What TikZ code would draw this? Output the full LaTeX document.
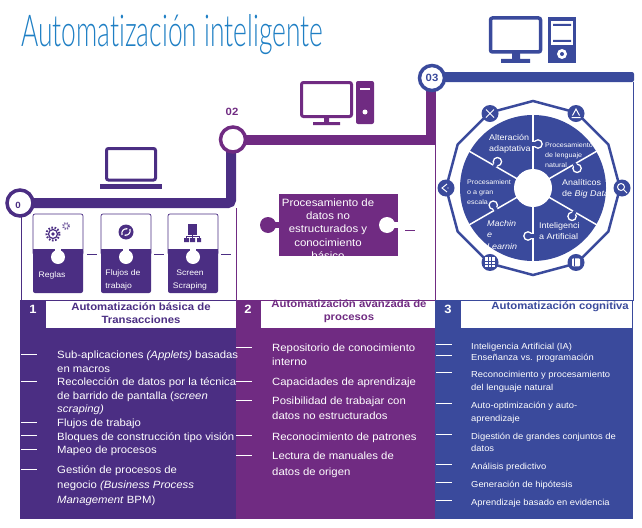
\documentclass[tikz,border=0pt]{standalone}
\usepackage{fontspec}
\setmainfont[FakeStretch=1.08]{Liberation Sans}
\newfontfamily\titlefont[FakeStretch=0.6,Ligatures=CommonOff]{Lato Light}
\usetikzlibrary{positioning,arrows.meta,calc}
\definecolor{violetA}{HTML}{4B2E83}
\definecolor{violetB}{HTML}{702B82}
\definecolor{blueC}{HTML}{3A4A9C}
\definecolor{titleblue}{HTML}{1F7FC4}
\tikzset{
    item/.style={anchor=north west, inner sep=0pt, text=white, font=\fontsize{10.5}{13.5}\selectfont, align=left},
    itemsmall/.style={item, font=\fontsize{8.7}{#1}\selectfont},
    head/.style={inner sep=0pt, font=\fontsize{10.5}{13}\selectfont\bfseries, align=center},
    num/.style={inner sep=0pt, text=white, font=\fontsize{12}{14}\selectfont\bfseries},
    tick/.style={white, line width=.7pt},
    stagecircle/.style={circle, draw, fill=white, line width=3.5pt, minimum size=25pt, inner sep=0pt, font=\fontsize{10.5}{12}\selectfont\bfseries},
    cardtext/.style={inner sep=0pt, text=white, font=\fontsize{8}{13}\selectfont, align=center},
    wheelbig/.style={anchor=north west, inner sep=0pt, text=white, align=left, font=\fontsize{8.3}{11.5}\selectfont},
    wheelsmall/.style={anchor=north west, inner sep=0pt, text=white, align=left, font=\fontsize{6.6}{10}\selectfont},
    badge/.style={circle, fill=blueC, minimum size=17pt, inner sep=0pt},
    glyph/.style={white, line width=1pt},
}
% one card of the first stage
\newcommand{\jobcard}[1]{
    \draw[violetA, line width=.7pt, fill=white, rounded corners=2pt] (#1,214) rectangle (#1+50,255);
    \fill[violetA, rounded corners=2pt] (#1,249) rectangle (#1+50,293);
    \fill[violetA] (#1,249) rectangle (#1+50,255);
    \fill[white] (#1+25,257) circle (7);
    \fill[white] (#1+22,248) rectangle (#1+28,254);
}
\begin{document}
\begin{tikzpicture}[x=1pt,y=-1pt]
    \useasboundingbox (0,0) rectangle (642,527);
    \node[anchor=west, inner sep=0pt, text=titleblue, font=\fontsize{44}{48}\selectfont\titlefont] (title) at (21,35) {Automatización inteligente};

    % columns
    \fill[violetA] (20,300) rectangle (236,519);
    \fill[violetB] (236,300) rectangle (435,519);
    \fill[blueC] (435,300) rectangle (633,519);
    \fill[white] (46,301) rectangle (236,328);
    \fill[white] (261,301) rectangle (435,328);
    \fill[white] (461,301) rectangle (632,328);
    \draw[violetA, line width=.7pt] (21,208) -- (21,300) -- (236,300);
    \draw[violetB, line width=.7pt] (236,208) -- (236,300) -- (435,300);
    \draw[violetB, line width=.7pt] (435,144) -- (435,300);
    \draw[blueC, line width=.7pt] (633,82) -- (633,300) -- (435,300);

    % stage lines
    \draw[violetA, line width=10pt, rounded corners=3pt] (25,203) -- (231,203) -- (231,150);
    \draw[violetB, line width=10pt] (240,140) -- (431,140) -- (431,90);
    \fill[blueC, rounded corners=2pt] (440,72) rectangle (634,82);
    \node[stagecircle, draw=violetA, minimum size=26pt] (stageA) at (20,203) {};
    \node[inner sep=0pt, text=violetA, font=\fontsize{9}{11}\selectfont\bfseries] (labelA) at (18,205) {0};
    \node[stagecircle, draw=violetB] (stageB) at (233,139.5) {};
    \node[inner sep=0pt, text=violetB, font=\fontsize{10.5}{12}\selectfont\bfseries] (labelB) at (232,112) {02};
    \node[stagecircle, draw=blueC, text=blueC] (stageC) at (432,78) {03};

    % laptop
    \draw[violetA, line width=3pt, rounded corners=2pt] (106.5,148.5) rectangle (155.5,180);
    \fill[violetA] (100,184) rectangle (162,189);
    % desktop stage 2
    \draw[violetB, line width=3pt, rounded corners=2pt] (301.5,82.5) rectangle (351.5,116.5);
    \fill[violetB] (324,118) rectangle (329,123) (313,122) rectangle (340,125);
    \fill[violetB, rounded corners=2pt] (356,81) rectangle (374,124);
    \fill[white] (360,88) rectangle (370,90);
    \fill[white] (365,112) circle (2.5);
    % desktop stage 3
    \draw[blueC, line width=3.5pt, rounded corners=2pt] (490.5,18) rectangle (540.5,52);
    \fill[blueC] (512,53) rectangle (520,60) (501,59) rectangle (530,63);
    \fill[blueC] (548,17) rectangle (576,63);
    \fill[white] (551,21) rectangle (573,45);
    \fill[blueC] (553,24) rectangle (571,26) (553,40) rectangle (571,42);
    \fill[white] (562,54) circle (5);
    \fill[blueC] (562,54) circle (2);

    % stage 1 cards
    \jobcard{33}
    \jobcard{101}
    \jobcard{168}
    \node[cardtext] (cardA) at (52,275) {Reglas};
    \node[cardtext, align=left] (cardB) at (123,279.5) {Flujos de\\trabajo};
    \node[cardtext] (cardC) at (190,280) {Screen\\Scraping};
    \foreach \x in {87,154,221}
        \draw[violetA, line width=.7pt] (\x,254) -- (\x+10,254);

    % card icons
    \draw[violetA, line width=2pt, dash pattern=on 1.6pt off 1.6pt] (53,234) circle (6.5);
    \draw[violetA, line width=1.2pt] (53,234) circle (4.5);
    \fill[violetA] (53,234) circle (1.8);
    \draw[violetA!75, line width=2pt, dash pattern=on 1.2pt off 1.2pt] (66,226) circle (3);
    \fill[violetA] (126,232) circle (7.5);
    \draw[white, line width=1.1pt, -{Stealth[length=2.5pt]}] (122,235) .. controls (121,231) and (124,228.5) .. (128,229);
    \draw[white, line width=1.1pt, -{Stealth[length=2.5pt]}] (130,229) .. controls (131,233) and (128,235.5) .. (124,235);
    \fill[violetA] (188,224) rectangle (197,235);
    \fill[violetA] (184,238) rectangle (189,242) (190,238) rectangle (195,242) (197,238) rectangle (201,242);
    \draw[violetA, line width=.7pt] (186.5,238) -- (186.5,236.5) -- (199,236.5) -- (199,238) (192.5,235) -- (192.5,238);

    % stage 2 piece
    \fill[violetB] (279,194) rectangle (398,256);
    \fill[violetB] (268,225) circle (8);
    \fill[violetB] (272,222) rectangle (280,228);
    \fill[white] (387,225) circle (8);
    \fill[white] (390,222) rectangle (399,228);
    \begin{scope}
        \clip (279,194) rectangle (398,256);
        \node[inner sep=0pt, text=white, anchor=north, align=center, font=\fontsize{10.6}{13.3}\selectfont] (pieceText) at (328,198.5) {Procesamiento de\\datos no\\estructurados y\\conocimiento\\básico};
    \end{scope}
    \draw[violetB, line width=.7pt] (405,230) -- (415,230);

    % wheel
    \begin{scope}[shift={(533,188)}, y=1pt]
        \coordinate (hub) at (0,0);
        \draw[blueC, line width=2.5pt] (90:87) \foreach \a in {60,30,...,-240} { -- (\a:87) } -- cycle;
        \fill[blueC] (hub) circle (73);
        \fill[white] (hub) circle (19);
        \foreach \a in {90,30,-30,-90,-150,150}
            \draw[white, line width=1.5pt] (hub) -- (\a:74);
        \foreach \a/\r in {90/44,30/48,-30/48,-90/48,210/43,150/44} {
            \draw[white, line width=1.3pt, fill=blueC] ($(\a:\r)+(\a-90:5)$) circle (4.2);
            \draw[blueC, line width=3.5pt] ($(\a:\r)+(\a-90:3.5)$) -- ($(\a:\r)+(\a+90:1)$);
        }
        \foreach \a/\r [count=\i] in {60/86,0/89,-60/86,-120/86,180/87,120/86}
            \node[badge] (badge\i) at (\a:\r) {};
        % glyphs in the badges
        \draw[glyph] ($(badge6)+(-4,4)$) -- ($(badge6)+(4,-4)$) ($(badge6)+(-4,-4)$) -- ($(badge6)+(4,4)$);
        \draw[glyph] ($(badge1)+(-3.5,-2)$) -- ($(badge1)+(0,4.5)$) -- ($(badge1)+(3.5,-2)$) ($(badge1)+(-4.5,-4)$) -- ($(badge1)+(4.5,-4)$);
        \draw[glyph] ($(badge2)+(-1,1)$) circle (3.5) ($(badge2)+(1.5,-1.5)$) -- ($(badge2)+(5,-5)$);
        \fill[white, rounded corners=1pt] ($(badge3)+(-4,-4)$) rectangle ($(badge3)+(4,4)$);
        \draw[blueC, line width=.5pt] ($(badge3)+(-2,-4)$) -- ($(badge3)+(-2,4)$);
        \fill[white] ($(badge4)+(-5,-5)$) rectangle ($(badge4)+(5,5)$);
        \draw[blueC, line width=.5pt] ($(badge4)+(-5,-1.5)$) -- ($(badge4)+(5,-1.5)$) ($(badge4)+(-5,1.5)$) -- ($(badge4)+(5,1.5)$) ($(badge4)+(-1.7,-5)$) -- ($(badge4)+(-1.7,5)$) ($(badge4)+(1.7,-5)$) -- ($(badge4)+(1.7,5)$);
        \draw[glyph] ($(badge5)+(1,4)$) -- ($(badge5)+(-4,0)$) -- ($(badge5)+(1,-4)$);
        \fill[white] ($(badge5)+(2,0)$) circle (.7);
    \end{scope}
    \node[wheelbig] (wheelA) at (489,134) {Alteración\\adaptativa};
    \node[wheelsmall] (wheelB) at (545,143) {Procesamiento\\de lenguaje\\natural};
    \node[wheelbig] (wheelC) at (562,179) {Analíticos\\de \textit{Big Data}};
    \node[wheelbig] (wheelD) at (539,222) {Inteligenci\\a Artificial};
    \node[wheelbig, font=\fontsize{8.3}{11.5}\selectfont\itshape] (wheelE) at (487,220) {Machin\\e\\Learnin};
    \node[wheelsmall] (wheelF) at (467,180) {Procesamient\\o a gran\\escala};

    % headers
    \node[num] (numA) at (33,309) {1};
    \node[num] (numB) at (248,309) {2};
    \node[num] (numC) at (448,309) {3};
    \node[head, text=violetA] (headA) at (141,313) {Automatización básica de\\Transacciones};
    \node[head, text=violetB] (headB) at (349,311) {Automatización avanzada de\\procesos};
    \node[head, text=blueC, anchor=east] (headC) at (629,307) {Automatización cognitiva};

    % column 1 items
    \foreach \y in {354,381,422,435,449,469}
        \draw[tick] (21,\y) -- (37,\y);
    \node[item] (itemA) at (57,351) {Sub-aplicaciones \textit{(Applets)} basadas\\en macros};
    \node[item] (itemB) at (57,378) {Recolección de datos por la técnica\\de barrido de pantalla (\textit{screen}\\\textit{scraping)}};
    \node[item] (itemC) at (57,419) {Flujos de trabajo};
    \node[item] (itemD) at (57,433) {Bloques de construcción tipo visión};
    \node[item] (itemE) at (57,446) {Mapeo de procesos};
    \node[item, font=\fontsize{10.5}{15}\selectfont] (itemF) at (57,466) {Gestión de procesos de\\negocio \textit{(Business Process}\\\textit{Management} BPM)};

    % column 2 items
    \foreach \y in {347,381,400,435,455}
        \draw[tick] (236,\y) -- (252,\y);
    \node[item, font=\fontsize{10.5}{14}\selectfont] (itemG) at (272,344) {Repositorio de conocimiento\\interno};
    \node[item] (itemH) at (272,378) {Capacidades de aprendizaje};
    \node[item, font=\fontsize{10.5}{15}\selectfont] (itemI) at (272,397) {Posibilidad de trabajar con\\datos no estructurados};
    \node[item] (itemJ) at (272,433) {Reconocimiento de patrones};
    \node[item, font=\fontsize{10.5}{16}\selectfont] (itemK) at (272,452) {Lectura de manuales de\\datos de origen};

    % column 3 items
    \foreach \y in {344,355,372,403,434,464,482,500}
        \draw[tick] (436,\y) -- (452,\y);
    \node[itemsmall=11] (itemL) at (471,343) {Inteligencia Artificial (IA)};
    \node[itemsmall=11] (itemM) at (471,354) {Enseñanza vs. programación};
    \node[itemsmall=13] (itemN) at (471,371) {Reconocimiento y procesamiento\\del lenguaje natural};
    \node[itemsmall=13] (itemO) at (471,402) {Auto-optimización y auto-\\aprendizaje};
    \node[itemsmall=12] (itemP) at (471,433) {Digestión de grandes conjuntos de\\datos};
    \node[itemsmall=11] (itemQ) at (471,463) {Análisis predictivo};
    \node[itemsmall=11] (itemR) at (471,481) {Generación de hipótesis};
    \node[itemsmall=11] (itemS) at (471,499) {Aprendizaje basado en evidencia};
\end{tikzpicture}
\end{document}
